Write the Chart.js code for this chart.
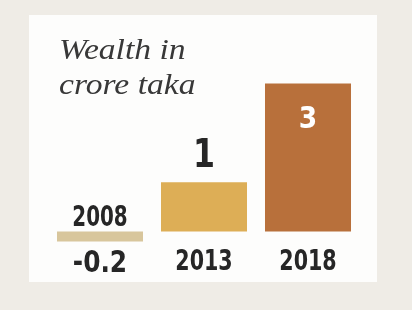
<!DOCTYPE html>
<html>
<head>
<meta charset="utf-8">
<script src="https://cdn.jsdelivr.net/npm/chart.js@4/dist/chart.umd.min.js"></script>
<style>
  body { margin: 0; background: #efece6; }
  #wrap { position: relative; width: 412px; height: 310px; }
  #panel { position: absolute; left: 29px; top: 15px; width: 348px; height: 267px; background: #fdfdfc; }
  #myChartWealth { position: absolute; left: 0; top: 0; }
</style>
</head>
<body>
<div id="wrap">
  <div id="panel"></div>
  <canvas id="myChartWealth" width="412" height="310"></canvas>
</div>
<script>
// datos
const years = ["2008", "2013", "2018"]
const wealth = [-0.2, 1, 3]
const wealthLabels = ["-0.2", "1", "3"]
const titleLines = ["Wealth in", "crore taka"]

const numFont = '"DejaVu Sans Condensed", sans-serif'

// texto comprimido a lo ancho
const drawText = (ctx, txt, x, y, font, sx) => {
    ctx.save()
    ctx.font = font
    ctx.translate(x, y)
    ctx.scale(sx, 1)
    ctx.fillText(txt, 0, 0)
    ctx.restore()
}

// textos sobre las barras
const barLabels = {
    id: 'barLabels',
    afterDatasetsDraw(chart) {
        const ctx = chart.ctx
        const y = chart.scales.y
        const meta = chart.getDatasetMeta(0)
        const zero = y.getPixelForValue(0)
        const maxVal = Math.max(...wealth)
        ctx.save()
        ctx.textBaseline = 'alphabetic'

        // titulo
        ctx.fillStyle = '#383838'
        ctx.textAlign = 'left'
        titleLines.forEach((t, i) => drawText(ctx, t, 59, 59 + i * 35, 'italic 30px "Liberation Serif", serif', 1.12))

        ctx.textAlign = 'center'
        meta.data.forEach((bar, i) => {
            const x = bar.x
            const v = wealth[i]
            const top = y.getPixelForValue(v)
            ctx.fillStyle = '#262626'
            if (v < 0) {
                drawText(ctx, years[i], x, zero - 6, 'bold 28px ' + numFont, 0.79)
                drawText(ctx, wealthLabels[i], x, top + 31, 'bold 30px ' + numFont, 0.92)
            } else {
                drawText(ctx, years[i], x, zero + 38, 'bold 29px ' + numFont, 0.79)
                if (v === maxVal) {
                    ctx.fillStyle = '#ffffff'
                    drawText(ctx, wealthLabels[i], x, top + 45, 'bold 31px ' + numFont, 0.95)
                } else {
                    drawText(ctx, wealthLabels[i], x, top - 15, 'bold 39px ' + numFont, 0.9)
                }
            }
        })
        ctx.restore()
    }
}

const chart_Wealth = document.getElementById('myChartWealth')
let myChart = new Chart(chart_Wealth, {
    type: 'bar',
    data: {
        labels: years,
        datasets: [{
            data: wealth,
            backgroundColor: ["#d8c69c", "#ddae56", "#b8703b"],
            borderWidth: 0,
            categoryPercentage: 1,
            barPercentage: 0.827
        }]
    },
    options: {
        responsive: false,
        animation: false,
        layout: { padding: { left: 48, right: 52, top: 34, bottom: 29 } },
        plugins: {
            legend: { display: false },
            tooltip: { enabled: false }
        },
        scales: {
            x: { display: false },
            y: { display: false, min: -1, max: 4 }
        }
    },
    plugins: [barLabels]
})
</script>
</body>
</html>
